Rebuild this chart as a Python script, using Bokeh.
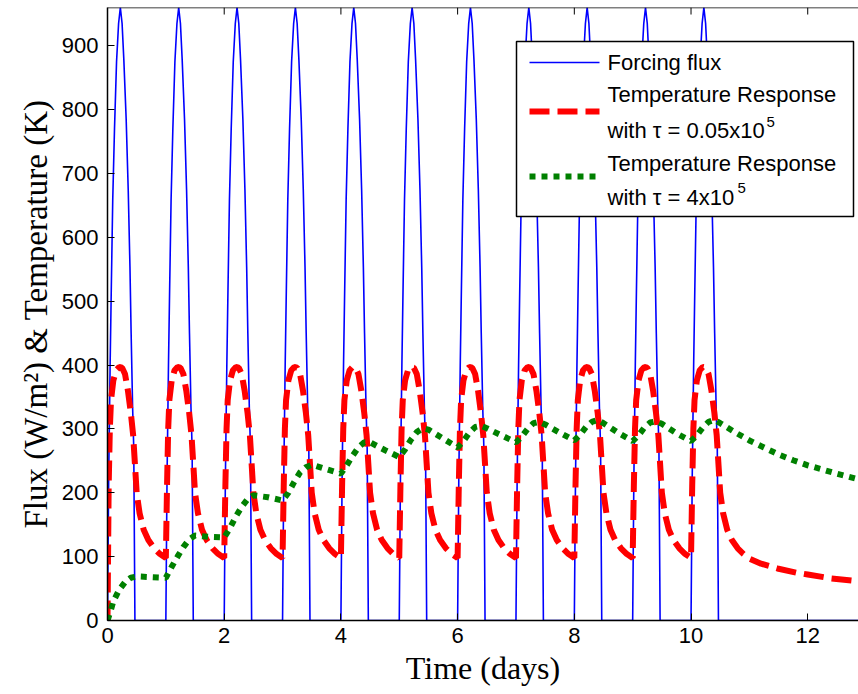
from bokeh.plotting import figure
from bokeh.models import Range1d, FixedTicker, Span
from bokeh.core.properties import value
from bokeh.embed import file_html
from bokeh.resources import INLINE

# ---- data ----
flux_t = [
    0.00, 0.02, 0.045, 0.065, 0.09, 0.12, 0.155, 0.19, 0.22, 0.25, 0.28, 0.32, 0.355, 0.385, 0.405, 0.43, 0.45, 0.47,
    1.00, 1.02, 1.045, 1.065, 1.09, 1.12, 1.155, 1.19, 1.22, 1.25, 1.28, 1.32, 1.355, 1.385, 1.405, 1.43, 1.45, 1.47,
    2.00, 2.02, 2.045, 2.065, 2.09, 2.12, 2.155, 2.19, 2.22, 2.25, 2.28, 2.32, 2.355, 2.385, 2.405, 2.43, 2.45, 2.47,
    3.00, 3.02, 3.045, 3.065, 3.09, 3.12, 3.155, 3.19, 3.22, 3.25, 3.28, 3.32, 3.355, 3.385, 3.405, 3.43, 3.45, 3.47,
    4.00, 4.02, 4.045, 4.065, 4.09, 4.12, 4.155, 4.19, 4.22, 4.25, 4.28, 4.32, 4.355, 4.385, 4.405, 4.43, 4.45, 4.47,
    5.00, 5.02, 5.045, 5.065, 5.09, 5.12, 5.155, 5.19, 5.22, 5.25, 5.28, 5.32, 5.355, 5.385, 5.405, 5.43, 5.45, 5.47,
    6.00, 6.02, 6.045, 6.065, 6.09, 6.12, 6.155, 6.19, 6.22, 6.25, 6.28, 6.32, 6.355, 6.385, 6.405, 6.43, 6.45, 6.47,
    7.00, 7.02, 7.045, 7.065, 7.09, 7.12, 7.155, 7.19, 7.22, 7.25, 7.28, 7.32, 7.355, 7.385, 7.405, 7.43, 7.45, 7.47,
    8.00, 8.02, 8.045, 8.065, 8.09, 8.12, 8.155, 8.19, 8.22, 8.25, 8.28, 8.32, 8.355, 8.385, 8.405, 8.43, 8.45, 8.47,
    9.00, 9.02, 9.045, 9.065, 9.09, 9.12, 9.155, 9.19, 9.22, 9.25, 9.28, 9.32, 9.355, 9.385, 9.405, 9.43, 9.45, 9.47,
    10.00, 10.02, 10.045, 10.065, 10.09, 10.12, 10.155, 10.19, 10.22, 10.25, 10.28, 10.32, 10.355, 10.385, 10.405, 10.43, 10.45, 10.47,
    13.0,
]
flux_v = [
    0, 220, 400, 520, 660, 770, 875, 935, 960, 935, 878, 785, 675, 553, 450, 335, 270, 0,
    0, 220, 400, 520, 660, 770, 875, 935, 960, 935, 878, 785, 675, 553, 450, 335, 270, 0,
    0, 220, 400, 520, 660, 770, 875, 935, 960, 935, 878, 785, 675, 553, 450, 335, 270, 0,
    0, 220, 400, 520, 660, 770, 875, 935, 960, 935, 878, 785, 675, 553, 450, 335, 270, 0,
    0, 220, 400, 520, 660, 770, 875, 935, 960, 935, 878, 785, 675, 553, 450, 335, 270, 0,
    0, 220, 400, 520, 660, 770, 875, 935, 960, 935, 878, 785, 675, 553, 450, 335, 270, 0,
    0, 220, 400, 520, 660, 770, 875, 935, 960, 935, 878, 785, 675, 553, 450, 335, 270, 0,
    0, 220, 400, 520, 660, 770, 875, 935, 960, 935, 878, 785, 675, 553, 450, 335, 270, 0,
    0, 220, 400, 520, 660, 770, 875, 935, 960, 935, 878, 785, 675, 553, 450, 335, 270, 0,
    0, 220, 400, 520, 660, 770, 875, 935, 960, 935, 878, 785, 675, 553, 450, 335, 270, 0,
    0, 220, 400, 520, 660, 770, 875, 935, 960, 935, 878, 785, 675, 553, 450, 335, 270, 0,
    0,
]

fast_t = [
    0.00, 0.02, 0.04, 0.06, 0.10, 0.15, 0.20, 0.25, 0.30, 0.35, 0.40, 0.44, 0.47, 0.50, 0.55, 0.62, 0.70, 0.80, 0.90,
    1.00, 1.02, 1.04, 1.06, 1.10, 1.15, 1.20, 1.25, 1.30, 1.35, 1.40, 1.44, 1.47, 1.50, 1.55, 1.62, 1.70, 1.80, 1.90,
    2.00, 2.02, 2.04, 2.06, 2.10, 2.15, 2.20, 2.25, 2.30, 2.35, 2.40, 2.44, 2.47, 2.50, 2.55, 2.62, 2.70, 2.80, 2.90,
    3.00, 3.02, 3.04, 3.06, 3.10, 3.15, 3.20, 3.25, 3.30, 3.35, 3.40, 3.44, 3.47, 3.50, 3.55, 3.62, 3.70, 3.80, 3.90,
    4.00, 4.02, 4.04, 4.06, 4.10, 4.15, 4.20, 4.25, 4.30, 4.35, 4.40, 4.44, 4.47, 4.50, 4.55, 4.62, 4.70, 4.80, 4.90,
    5.00, 5.02, 5.04, 5.06, 5.10, 5.15, 5.20, 5.25, 5.30, 5.35, 5.40, 5.44, 5.47, 5.50, 5.55, 5.62, 5.70, 5.80, 5.90,
    6.00, 6.02, 6.04, 6.06, 6.10, 6.15, 6.20, 6.25, 6.30, 6.35, 6.40, 6.44, 6.47, 6.50, 6.55, 6.62, 6.70, 6.80, 6.90,
    7.00, 7.02, 7.04, 7.06, 7.10, 7.15, 7.20, 7.25, 7.30, 7.35, 7.40, 7.44, 7.47, 7.50, 7.55, 7.62, 7.70, 7.80, 7.90,
    8.00, 8.02, 8.04, 8.06, 8.10, 8.15, 8.20, 8.25, 8.30, 8.35, 8.40, 8.44, 8.47, 8.50, 8.55, 8.62, 8.70, 8.80, 8.90,
    9.00, 9.02, 9.04, 9.06, 9.10, 9.15, 9.20, 9.25, 9.30, 9.35, 9.40, 9.44, 9.47, 9.50, 9.55, 9.62, 9.70, 9.80, 9.90,
    10.00, 10.02, 10.04, 10.06, 10.10, 10.15, 10.20, 10.25, 10.30, 10.35, 10.40, 10.44, 10.47, 10.50, 10.55, 10.62, 10.70, 10.80, 10.90,
    11.0, 11.2, 11.5, 11.8, 12.0, 12.4, 12.8, 13.0,
]
fast_v = [
    0, 210, 300, 345, 376, 392, 397, 396, 386, 360, 325, 290, 245, 200, 168, 142, 126, 113, 104,
    98, 210, 300, 345, 376, 392, 397, 396, 386, 360, 325, 290, 245, 200, 168, 142, 126, 113, 104,
    98, 210, 300, 345, 376, 392, 397, 396, 386, 360, 325, 290, 245, 200, 168, 142, 126, 113, 104,
    98, 210, 300, 345, 376, 392, 397, 396, 386, 360, 325, 290, 245, 200, 168, 142, 126, 113, 104,
    98, 210, 300, 345, 376, 392, 397, 396, 386, 360, 325, 290, 245, 200, 168, 142, 126, 113, 104,
    98, 210, 300, 345, 376, 392, 397, 396, 386, 360, 325, 290, 245, 200, 168, 142, 126, 113, 104,
    98, 210, 300, 345, 376, 392, 397, 396, 386, 360, 325, 290, 245, 200, 168, 142, 126, 113, 104,
    98, 210, 300, 345, 376, 392, 397, 396, 386, 360, 325, 290, 245, 200, 168, 142, 126, 113, 104,
    98, 210, 300, 345, 376, 392, 397, 396, 386, 360, 325, 290, 245, 200, 168, 142, 126, 113, 104,
    98, 210, 300, 345, 376, 392, 397, 396, 386, 360, 325, 290, 245, 200, 168, 142, 126, 113, 104,
    98, 210, 300, 345, 376, 392, 397, 396, 386, 360, 325, 290, 245, 200, 168, 142, 126, 113, 104,
    97, 89, 81, 75, 72, 66, 62, 60,
]

slow_t = [
    0.0, 0.05, 0.1, 0.2, 0.3, 0.4, 0.5, 0.75,
    1.0, 1.1, 1.2, 1.3, 1.4, 1.5, 1.75,
    2.0, 2.1, 2.2, 2.3, 2.4, 2.5, 2.75,
    3.0, 3.1, 3.2, 3.3, 3.4, 3.5, 3.75,
    4.0, 4.1, 4.2, 4.3, 4.4, 4.5, 4.75,
    5.0, 5.1, 5.2, 5.3, 5.4, 5.5, 5.75,
    6.0, 6.1, 6.2, 6.3, 6.4, 6.5, 6.75,
    7.0, 7.1, 7.2, 7.3, 7.4, 7.5, 7.75,
    8.0, 8.1, 8.2, 8.3, 8.4, 8.5, 8.75,
    9.0, 9.1, 9.2, 9.3, 9.4, 9.5, 9.75,
    10.0, 10.1, 10.2, 10.3, 10.4, 10.5, 10.75,
    11.0, 11.25, 11.5, 11.75, 12.0, 12.5, 13.0,
]
slow_v = [
    0, 14, 30, 48, 60, 67, 69, 68,
    67, 84, 100, 115, 127, 133, 131,
    130, 145, 163, 178, 190, 196, 193,
    188, 200, 217, 232, 240, 244, 237,
    230, 243, 258, 271, 279, 279, 267,
    256, 268, 283, 295, 301, 299, 285,
    271, 281, 294, 303, 305, 301, 290,
    279, 288, 300, 309, 311, 307, 294,
    282, 291, 303, 311, 314, 309, 294,
    281, 290, 302, 310, 312, 308, 293,
    281, 290, 302, 311, 314, 309, 295,
    282, 271, 260, 251, 243, 230, 218,
]

x_ticks = [0, 2, 4, 6, 8, 10, 12]
y_ticks = [0, 100, 200, 300, 400, 500, 600, 700, 800, 900]

legend_lines = [
    "Forcing flux",
    "Temperature Response",
    "with \u03c4 = 0.05x10",
    "Temperature Response",
    "with \u03c4 = 4x10",
]
legend_sups = ["5", "5"]

X_MAX = 12.87
Y_MAX = 960
FRAME_W = 751
FRAME_H = 613

# ---- figure ----
p = figure(width=858, height=694, output_backend="svg", toolbar_location=None,
           x_range=Range1d(0, X_MAX), y_range=Range1d(0, Y_MAX),
           min_border_left=107, min_border_right=0, min_border_top=7, min_border_bottom=74,
           x_axis_label="Time (days)", y_axis_label="Flux (W/m\u00b2) & Temperature (K)")
p.grid.visible = False
p.outline_line_color = None
p.background_fill_color = "white"
p.border_fill_color = "white"
# pixel coordinate system of the plot frame, used only for the legend box
p.extra_x_ranges = {"px": Range1d(0, FRAME_W)}
p.extra_y_ranges = {"py": Range1d(0, FRAME_H)}

rb = p.line(flux_t, flux_v, line_color="#0000ff", line_width=1.6)
rr = p.line(fast_t, fast_v, line_color="#ff0000", line_width=6, line_dash="20 8")
rg = p.line(slow_t, slow_v, line_color="#008000", line_width=6, line_dash="6 6")

# top frame edge and inward ticks along it (MATLAB box style)
p.add_layout(Span(location=Y_MAX, dimension="width", line_color="black", line_width=1.5))
p.segment(x0=x_ticks, y0=[Y_MAX] * len(x_ticks), x1=x_ticks, y1=[Y_MAX - 11] * len(x_ticks),
          line_color="black", line_width=1)

for ax, ticks in ((p.xaxis[0], x_ticks), (p.yaxis[0], y_ticks)):
    ax.ticker = FixedTicker(ticks=ticks)
    ax.major_tick_in = 7
    ax.major_tick_out = 0
    ax.minor_tick_line_color = None
    ax.axis_line_color = "black"
    ax.axis_line_width = 1.5
    ax.major_tick_line_color = "black"
    ax.major_label_text_font = "Liberation Sans"
    ax.major_label_text_font_size = "22px"
    ax.major_label_text_color = "black"
    ax.axis_label_text_font = "Liberation Serif"
    ax.axis_label_text_font_style = "normal"
    ax.axis_label_text_color = "black"

p.xaxis[0].major_label_standoff = 7
p.xaxis[0].axis_label_standoff = 4
p.xaxis[0].axis_label_text_font_size = "32px"
p.yaxis[0].major_label_standoff = 9
p.yaxis[0].axis_label_standoff = 5
p.yaxis[0].axis_label_text_font_size = "33px"

# ---- legend (MATLAB style, drawn in frame pixel coordinates) ----
lg = dict(x_range_name="px", y_range_name="py")
p.quad(left=[409], right=[746], bottom=[404], top=[579], fill_color="white",
       line_color="black", line_width=1.5, **lg)
p.line(x=[422, 492], y=[558, 558], line_color="#0000ff", line_width=1.6, **lg)
p.line(x=[422, 492], y=[509, 509], line_color="#ff0000", line_width=6, line_dash="20 8", **lg)
p.line(x=[422, 492], y=[444, 444], line_color="#008000", line_width=6, line_dash="6 6", **lg)
p.text(x=[500] * 5, y=[558, 526, 490, 457, 423], text=legend_lines,
       text_font=value("Liberation Sans"), text_font_size=value("22px"),
       text_color="black", text_baseline="middle", text_align="left", **lg)
p.text(x=[659, 630], y=[499, 433], text=legend_sups,
       text_font=value("Liberation Sans"), text_font_size=value("15px"),
       text_color="black", text_baseline="middle", text_align="left", **lg)

open("out.html", "w").write(file_html(p, INLINE))
